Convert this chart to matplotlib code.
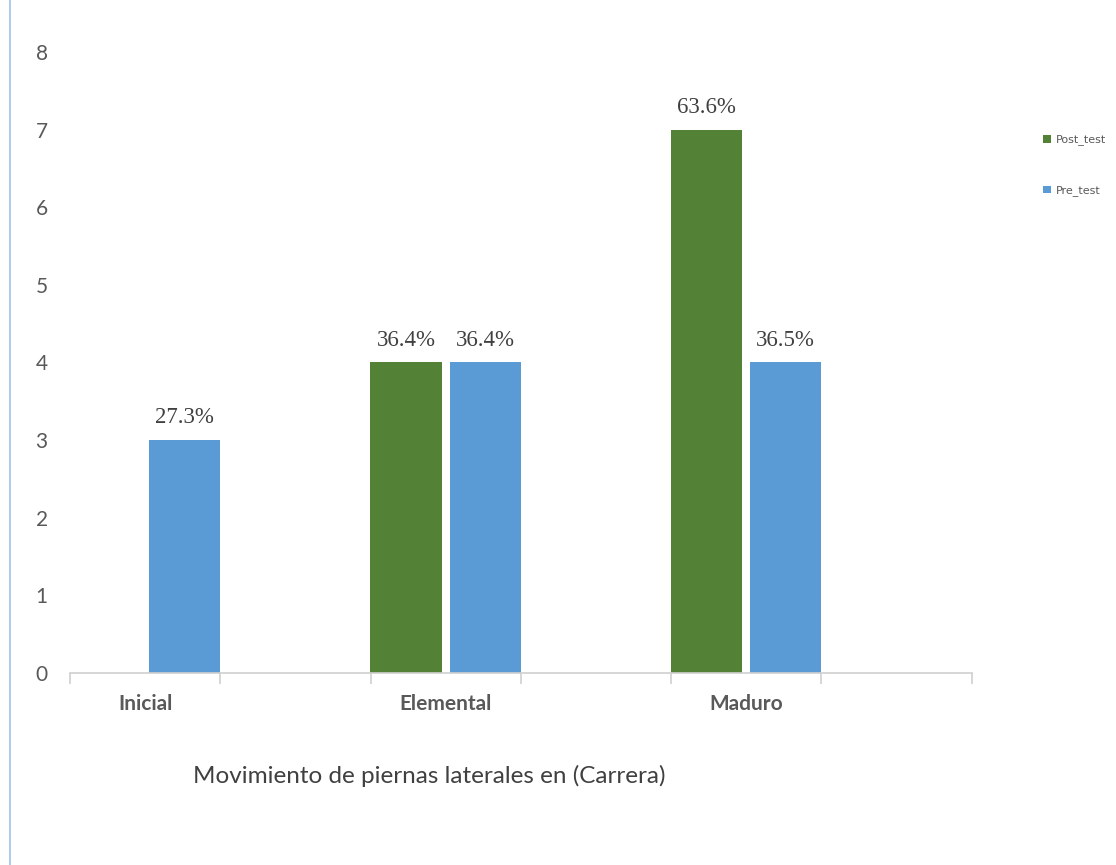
import numpy as np
import matplotlib
matplotlib.use("Agg")
from matplotlib import pyplot as plt
from matplotlib.lines import Line2D

categories = ["Inicial", "Elemental", "Maduro"]
post_test = [0, 4, 7]
pre_test = [3, 4, 4]
post_labels = ["", "36.4%", "63.6%"]
pre_labels = ["27.3%", "36.4%", "36.5%"]

green = "#538135"
blue = "#5B9BD5"

fig = plt.figure(figsize=(11.16, 8.65), dpi=100)
ax = fig.add_axes([0.0627, 0.222, 0.808, 0.718])

pos = np.array([0, 2, 4])
w = 0.475
off = 0.263
b1 = ax.bar(pos - off, post_test, w, color=green, label="Post_test")
b2 = ax.bar(pos + off, pre_test, w, color=blue, label="Pre_test")

# value labels above bars
for x, v, t in zip(pos - off, post_test, post_labels):
    if t:
        ax.text(x, v + 0.15, t, ha="center", va="bottom", family="Liberation Serif",
                fontsize=16.5, color="#404040")
for x, v, t in zip(pos + off, pre_test, pre_labels):
    ax.text(x, v + 0.15, t, ha="center", va="bottom", family="Liberation Serif",
            fontsize=16.5, color="#404040")

ax.set_xlim(-0.5, 5.5)
ax.set_ylim(0, 8)
ax.set_yticks(range(9))
ax.set_xticks(pos)
ax.set_xticklabels(categories, fontsize=15, fontweight="bold", color="#595959", family="Lato")
ax.set_xticks(np.arange(-0.5, 6, 1), minor=True)
ax.tick_params(axis="x", which="major", length=0, pad=15)
ax.tick_params(axis="x", which="minor", length=8, color="#d0d0d0", width=1.2)
ax.tick_params(axis="y", length=0, pad=16, labelsize=15, labelcolor="#595959")
for lab in ax.get_yticklabels():
    lab.set_family("Lato")

for s in ["top", "right", "left"]:
    ax.spines[s].set_visible(False)
ax.spines["bottom"].set_color("#d0d0d0")
ax.spines["bottom"].set_linewidth(1.2)

fig.text(0.385, 0.103, "Movimiento de piernas laterales en (Carrera)", ha="center", va="center",
         fontsize=17.5, color="#404040", family="Lato")

fig.legend(handles=[b1, b2], loc="upper left", bbox_to_anchor=(0.926, 0.856), frameon=False,
           fontsize=8, handlelength=0.7, handleheight=0.7, handletextpad=0.4,
           labelspacing=3.6, labelcolor="#595959")

fig.add_artist(Line2D([0.009, 0.009], [0.0, 1.0], color="#9DC3E6", lw=1.2))

plt.savefig("out.png")
